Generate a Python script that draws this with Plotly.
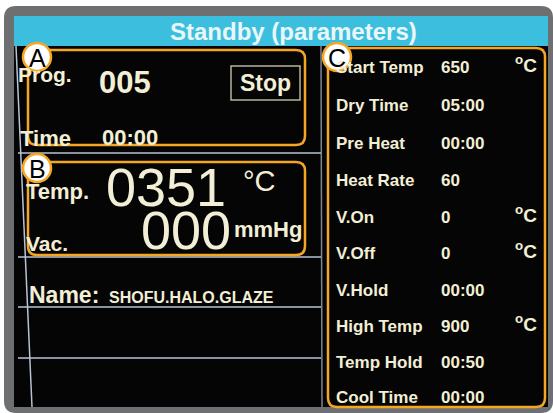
import plotly.graph_objects as go

# ---- data ----
title_text = "Standby (parameters)"
prog_label, prog_value, status = "Prog.", "005", "Stop"
time_label, time_value = "Time", "00:00"
temp_label, temp_value, temp_unit = "Temp.", "0351", "°C"
vac_label, vac_value, vac_unit = "Vac.", "000", "mmHg"
name_label, name_value = "Name:", "SHOFU.HALO.GLAZE"
param_labels = ["Start Temp", "Dry Time", "Pre Heat", "Heat Rate", "V.On",
                "V.Off", "V.Hold", "High Temp", "Temp Hold", "Cool Time"]
param_values = ["650", "05:00", "00:00", "60", "0", "0", "00:00", "900", "00:50", "00:00"]
param_units = ["°C", "", "", "", "°C", "°C", "", "°C", "", ""]
callouts = ["A", "B", "C"]

W, H = 553, 413
FG = "#f3efd6"
ORANGE = "#f5a623"
FONT = "Liberation Sans, Arial, sans-serif"

fig = go.Figure()
fig.add_trace(go.Scatter(x=[0, W], y=[0, H], mode="markers",
                         marker=dict(opacity=0), hoverinfo="skip", showlegend=False))


def rrect(x0, y0, x1, y1, r):
    return (f"M{x0+r},{y0} L{x1-r},{y0} Q{x1},{y0} {x1},{y0+r} L{x1},{y1-r} "
            f"Q{x1},{y1} {x1-r},{y1} L{x0+r},{y1} Q{x0},{y1} {x0},{y1-r} "
            f"L{x0},{y0+r} Q{x0},{y0} {x0+r},{y0} Z")


shapes = []
# gray device frame
shapes.append(dict(type="path", path=rrect(4, 6, W, 413, 12),
                   fillcolor="#6e6f71", line=dict(width=0), layer="below"))
# black screen
shapes.append(dict(type="rect", x0=14, y0=16, x1=548, y1=407,
                   fillcolor="#050505", line=dict(width=0), layer="below"))
# cyan header
shapes.append(dict(type="rect", x0=14, y0=16, x1=548, y1=46,
                   fillcolor="#3cbfdf", line=dict(width=0), layer="below"))
# screen grid lines
LINE = "#b9c2d6"
shapes.append(dict(type="line", x0=16, y0=46, x1=32, y1=407, line=dict(color=LINE, width=1.5)))
shapes.append(dict(type="line", x0=321, y0=46, x1=322, y1=407, line=dict(color="#7d8494", width=1.5)))
for yy in [153, 257, 307, 358]:
    shapes.append(dict(type="line", x0=18, y0=yy, x1=321, y1=yy, line=dict(color=LINE, width=1.5)))
# Stop box
shapes.append(dict(type="rect", x0=231, y0=66, x1=300, y1=100,
                   line=dict(color="#b8b39a", width=1.5), fillcolor="rgba(0,0,0,0)"))
# orange callout boxes
box_coords = [(28, 50, 305, 145), (28, 162, 305, 255), (328, 48, 545, 407)]
for (x0, y0, x1, y1) in box_coords:
    shapes.append(dict(type="path", path=rrect(x0, y0, x1, y1, 9),
                       line=dict(color=ORANGE, width=2.5)))
# callout circles
circ_centers = [(37, 57), (37, 168), (337, 57)]
for (cx, cy) in circ_centers:
    shapes.append(dict(type="circle", x0=cx - 14, y0=cy - 14, x1=cx + 14, y1=cy + 14,
                       fillcolor="white", line=dict(color=ORANGE, width=2.5)))

ann = []


def txt(x, y, s, size, anchor="left", bold=True, color=FG):
    ann.append(dict(x=x, y=y, text=(f"<b>{s}</b>" if bold else s), showarrow=False,
                    xanchor=anchor, yanchor="middle",
                    font=dict(family=FONT, size=size, color=color)))


txt(293, 31, title_text, 24, anchor="center", color="#eaf7fa")

txt(16, 74, prog_label, 21)
txt(97, 82, prog_value, 31)
txt(265, 83, status, 23, anchor="center")
txt(18, 138, time_label, 22)
txt(100, 137, time_value, 22)

txt(24, 191, temp_label, 22)
txt(104, 187, temp_value, 54, bold=False)
txt(241, 181, temp_unit, 29, bold=False)
txt(24, 243, vac_label, 21)
txt(139, 230, vac_value, 54, bold=False)
txt(232, 229, vac_unit, 22)

txt(27, 295, name_label, 23)
txt(107, 297, name_value, 16)

row_y = [67, 105, 143, 180, 217, 253, 290, 326, 362, 397]
for lab, val, unit, yy in zip(param_labels, param_values, param_units, row_y):
    txt(334, yy, lab, 17)
    txt(439, yy, val, 17)
    if unit:
        ann.append(dict(x=513, y=yy - 3, text="<b><sup>o</sup>C</b>", showarrow=False,
                        xanchor="left", yanchor="middle",
                        font=dict(family=FONT, size=19, color=FG)))

# callout letters last so they sit on top
for lab, (cx, cy) in zip(callouts, circ_centers):
    txt(cx, cy + 1, lab, 25, anchor="center", bold=False, color="black")

fig.update_layout(
    width=W, height=H, margin=dict(l=0, r=0, t=0, b=0),
    paper_bgcolor="white", plot_bgcolor="white",
    xaxis=dict(range=[0, W], visible=False, fixedrange=True),
    yaxis=dict(range=[H, 0], visible=False, fixedrange=True),
    shapes=shapes, annotations=ann, showlegend=False,
)
fig.write_html("out.html", post_script="document.body.style.margin='0';",
               config={"displayModeBar": False})
